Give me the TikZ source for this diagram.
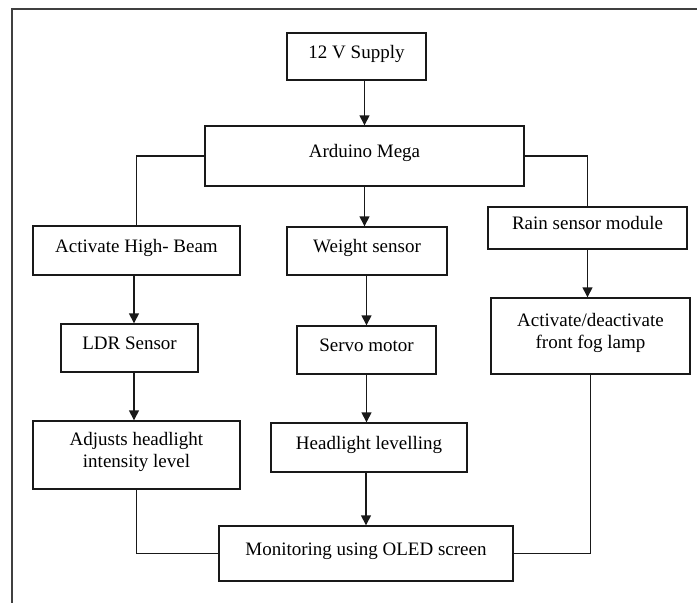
\documentclass[tikz,border=0pt]{standalone}
\usepackage{fontspec}
\setmainfont{Liberation Serif}
\usetikzlibrary{arrows.meta}

\begin{document}
\begin{tikzpicture}[x=1pt, y=-1pt,
    font=\fontsize{19}{22}\selectfont,
    block/.style={draw=black!90, line width=1.4pt, inner sep=0pt,
                  text height=8pt, text depth=5pt, align=center},
    twoline/.style={text height=30pt},
    link/.style={draw=black!90, line width=1.4pt},
    flow/.style={link, -{Triangle[length=10pt,width=10pt]}}]
            \useasboundingbox (0, 0) rectangle (697, 603);
            \draw [black!75, line width=1.8pt] (697, 9) -- (12, 9) -- (12, 603);

            \node [block, minimum width=139pt, minimum height=47pt] (supply) at (356.5, 56.5) {12 V Supply};
            \node [block, minimum width=319pt, minimum height=60pt] (mega)   at (364.5, 156)  {Arduino Mega};

            % left column
            \node [block, minimum width=207pt, minimum height=49pt] (beam)   at (136.5, 250.5) {Activate High- Beam};
            \node [block, minimum width=137pt, minimum height=48pt] (ldr)    at (129.5, 348)   {LDR Sensor};
            \node [block, twoline, minimum width=207pt, minimum height=68pt] (adjust) at (136.5, 455) {Adjusts headlight\\intensity level};
            \coordinate (lcol) at (134, 0);

            % middle column
            \node [block, minimum width=160pt, minimum height=48pt] (weight) at (367, 251)     {Weight sensor};
            \node [block, minimum width=139pt, minimum height=48pt] (servo)  at (366.5, 350)   {Servo motor};
            \node [block, minimum width=196pt, minimum height=49pt] (level)  at (369, 447.5)   {Headlight levelling};

            % right column
            \node [block, minimum width=199pt, minimum height=42pt] (rain)   at (587.5, 228)   {Rain sensor module};
            \node [block, twoline, minimum width=199pt, minimum height=76pt] (fog) at (590.5, 336) {Activate/deactivate\\front fog lamp};

            \node [block, minimum width=294pt, minimum height=55pt] (oled)   at (366, 553.5)   {Monitoring using OLED screen};

            \draw [flow] (supply.south -| mega.north) -- (mega.north);
            \draw [link] (mega.west) -| (beam.north);
            \draw [link] (mega.east) -| (rain.north);
            \draw [flow] (mega.south) -- (mega.south |- weight.north);

            \draw [flow] (beam.south -| lcol) -- (ldr.north -| lcol);
            \draw [flow] (ldr.south -| lcol)  -- (adjust.north -| lcol);
            \draw [link] (adjust.south) |- (oled.west);

            \draw [flow] (weight.south -| servo.north) -- (servo.north);
            \draw [flow] (servo.south) -- (servo.south |- level.north);
            \draw [flow] (level.south -| oled.north) -- (oled.north);

            \draw [flow] (rain.south) -- (rain.south |- fog.north);
            \draw [link] (fog.south) |- (oled.east);
          \end{tikzpicture}
\end{document}
